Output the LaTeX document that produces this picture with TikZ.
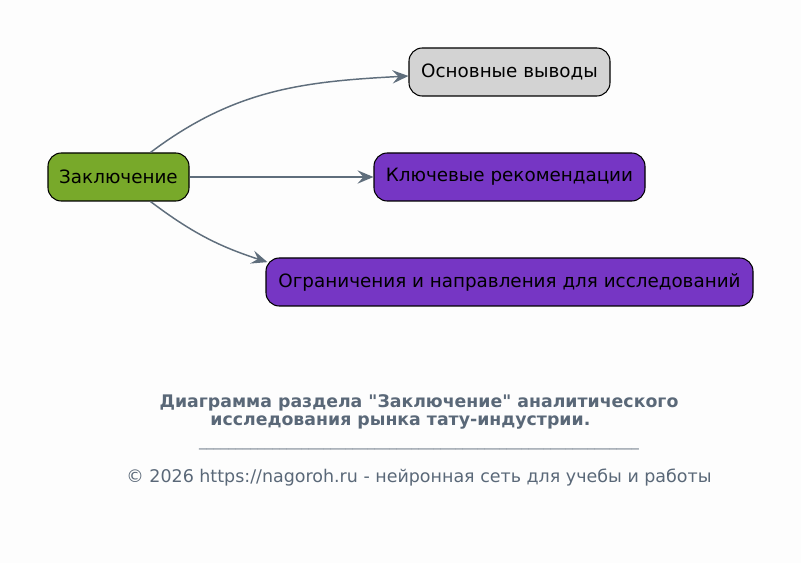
\documentclass[tikz,border=0pt]{standalone}
\usepackage{fontspec}
\setmainfont{DejaVu Sans}
\usetikzlibrary{arrows.meta}
\definecolor{bgcol}{HTML}{FDFDFD}
\definecolor{edgecol}{HTML}{5F6E7C}
\definecolor{greencol}{HTML}{78A92A}
\definecolor{greycol}{HTML}{D3D3D3}
\definecolor{purplecol}{HTML}{7636C4}
\definecolor{titlecol}{HTML}{5A6878}

\begin{document}
\begin{tikzpicture}[x=0.75pt, y=-0.75pt,
		box/.style={draw=black, line width=0.8pt, rounded corners=10pt, minimum height=36pt, inner xsep=0pt, font=\fontsize{13.75}{16}\selectfont},
		edge/.style={draw=edgecol, line width=1.1pt, -{Stealth[length=12pt, width=10pt, inset=4.5pt]}}]
			%%%%% START %%%%%
			
			\fill[bgcol] (0, 0) rectangle (801, 563);
			\useasboundingbox (0, 0) rectangle (801, 563);
			
			\node[box, fill=greencol, minimum width=105.75pt] (zakl) at (118.5, 177) {Заключение};
			\node[box, fill=greycol, minimum width=150.75pt] (vyvody) at (509.5, 72) {Основные выводы};
			\node[box, fill=purplecol, minimum width=203.25pt] (rekom) at (509.5, 177) {Ключевые рекомендации};
			\node[box, fill=purplecol, minimum width=365.25pt] (ogran) at (509.5, 282) {Ограничения и направления для исследований};
			
			\draw[edge] ([xshift=24pt]zakl.north) to[out=37, in=183] ([yshift=-3pt]vyvody.west);
			\draw[edge] (zakl.east) -- (rekom.west);
			\draw[edge] ([xshift=24pt]zakl.south) to[out=-37, in=162] ([xshift=1.5pt, yshift=-3.5pt]ogran.north west);
			
			\node[text=titlecol, font=\fontsize{13}{13.5}\selectfont\bfseries, align=center] (titel) at (419, 412) {Диаграмма раздела \textquotedbl Заключение\textquotedbl{} аналитического\\исследования рынка тату-индустрии.\hspace*{28pt}};
			\node[text=titlecol!85, font=\fontsize{11}{13}\selectfont] (strich) at (419, 448) {\_\_\_\_\_\_\_\_\_\_\_\_\_\_\_\_\_\_\_\_\_\_\_\_\_\_\_\_\_\_\_\_\_\_\_\_\_\_\_\_\_\_\_\_\_\_\_\_\_\_\_\_\_\_\_\_\_\_\_\_};
			\node[text=titlecol, font=\fontsize{13.1}{15}\selectfont] (fuss) at (419, 478) {© 2026 https://nagoroh.ru - нейронная сеть для учебы и работы};
			
			%%%%% END %%%%%
		\end{tikzpicture}
\end{document}
